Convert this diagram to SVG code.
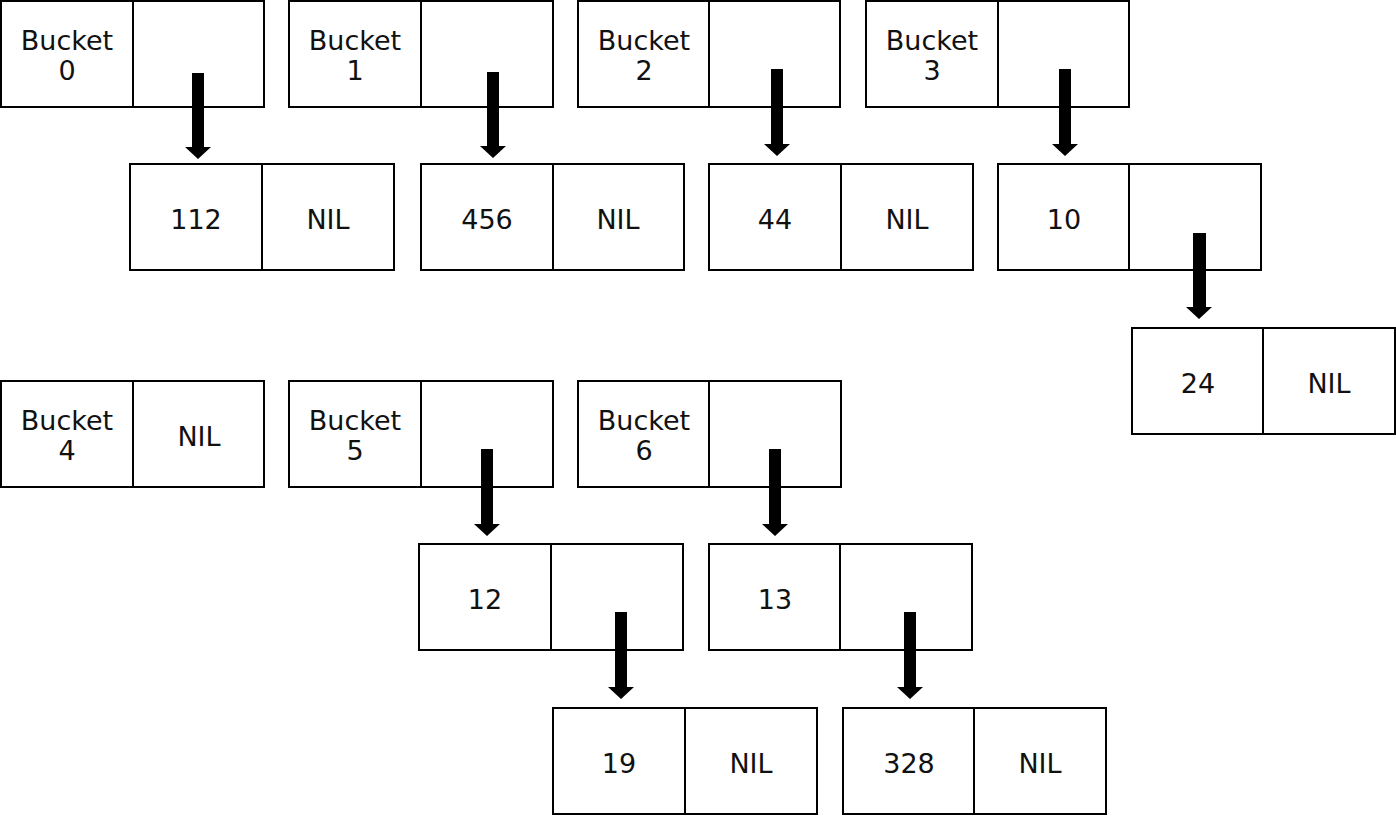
<svg xmlns="http://www.w3.org/2000/svg" width="1396" height="817" viewBox="0 0 1396 817">
<style>
.cell{fill:#fff;stroke:#000;stroke-width:2}
.div{stroke:#000;stroke-width:2}
text{font-family:"DejaVu Sans","Noto Sans",sans-serif;font-size:27px;fill:#111;text-anchor:middle}
.arr{fill:#000}
</style>
<rect width="1396" height="817" fill="#fff"/>
<g id="bucket0"><rect class="cell" x="1" y="1" width="263" height="106"/><line class="div" x1="133" y1="1" x2="133" y2="107"/><text x="67" y="50">Bucket</text><text x="67" y="80">0</text></g>
<g id="bucket1"><rect class="cell" x="289" y="1" width="264" height="106"/><line class="div" x1="421" y1="1" x2="421" y2="107"/><text x="355" y="50">Bucket</text><text x="355" y="80">1</text></g>
<g id="bucket2"><rect class="cell" x="578" y="1" width="262" height="106"/><line class="div" x1="709" y1="1" x2="709" y2="107"/><text x="644" y="50">Bucket</text><text x="644" y="80">2</text></g>
<g id="bucket3"><rect class="cell" x="866" y="1" width="263" height="106"/><line class="div" x1="998" y1="1" x2="998" y2="107"/><text x="932" y="50">Bucket</text><text x="932" y="80">3</text></g>
<g id="n112"><rect class="cell" x="130" y="164" width="264" height="106"/><line class="div" x1="262" y1="164" x2="262" y2="270"/><text x="196" y="229">112</text><text x="328" y="229">NIL</text></g>
<g id="n456"><rect class="cell" x="421" y="164" width="263" height="106"/><line class="div" x1="553" y1="164" x2="553" y2="270"/><text x="487" y="229">456</text><text x="618" y="229">NIL</text></g>
<g id="n44"><rect class="cell" x="709" y="164" width="264" height="106"/><line class="div" x1="841" y1="164" x2="841" y2="270"/><text x="775" y="229">44</text><text x="907" y="229">NIL</text></g>
<g id="n10"><rect class="cell" x="998" y="164" width="263" height="106"/><line class="div" x1="1129" y1="164" x2="1129" y2="270"/><text x="1064" y="229">10</text></g>
<g id="n24"><rect class="cell" x="1132" y="328" width="263" height="106"/><line class="div" x1="1263" y1="328" x2="1263" y2="434"/><text x="1198" y="393">24</text><text x="1329" y="393">NIL</text></g>
<g id="bucket4"><rect class="cell" x="1" y="381" width="263" height="106"/><line class="div" x1="133" y1="381" x2="133" y2="487"/><text x="67" y="430">Bucket</text><text x="67" y="460">4</text><text x="199" y="446">NIL</text></g>
<g id="bucket5"><rect class="cell" x="289" y="381" width="264" height="106"/><line class="div" x1="421" y1="381" x2="421" y2="487"/><text x="355" y="430">Bucket</text><text x="355" y="460">5</text></g>
<g id="bucket6"><rect class="cell" x="578" y="381" width="263" height="106"/><line class="div" x1="709" y1="381" x2="709" y2="487"/><text x="644" y="430">Bucket</text><text x="644" y="460">6</text></g>
<g id="n12"><rect class="cell" x="419" y="544" width="264" height="106"/><line class="div" x1="551" y1="544" x2="551" y2="650"/><text x="485" y="609">12</text></g>
<g id="n13"><rect class="cell" x="709" y="544" width="263" height="106"/><line class="div" x1="840" y1="544" x2="840" y2="650"/><text x="775" y="609">13</text></g>
<g id="n19"><rect class="cell" x="553" y="708" width="264" height="106"/><line class="div" x1="685" y1="708" x2="685" y2="814"/><text x="619" y="773">19</text><text x="751" y="773">NIL</text></g>
<g id="n328"><rect class="cell" x="843" y="708" width="263" height="106"/><line class="div" x1="974" y1="708" x2="974" y2="814"/><text x="909" y="773">328</text><text x="1040" y="773">NIL</text></g>
<g id="connectors">
<polygon class="arr" points="192,73 204,73 204,147 211,147 198,159 185,147 192,147"/>
<polygon class="arr" points="487,72 499,72 499,146 506,146 493,158 480,146 487,146"/>
<polygon class="arr" points="771,69 783,69 783,144 790,144 777,156 764,144 771,144"/>
<polygon class="arr" points="1059,69 1071,69 1071,144 1078,144 1065,156 1052,144 1059,144"/>
<polygon class="arr" points="1193,233 1206,233 1206,307 1212,307 1199,319 1186,307 1193,307"/>
<polygon class="arr" points="481,449 493,449 493,524 500,524 487,536 474,524 481,524"/>
<polygon class="arr" points="769,449 781,449 781,524 788,524 775,536 762,524 769,524"/>
<polygon class="arr" points="615,612 627,612 627,687 634,687 621,699 608,687 615,687"/>
<polygon class="arr" points="904,612 916,612 916,687 923,687 910,699 897,687 904,687"/>
</g>
</svg>
